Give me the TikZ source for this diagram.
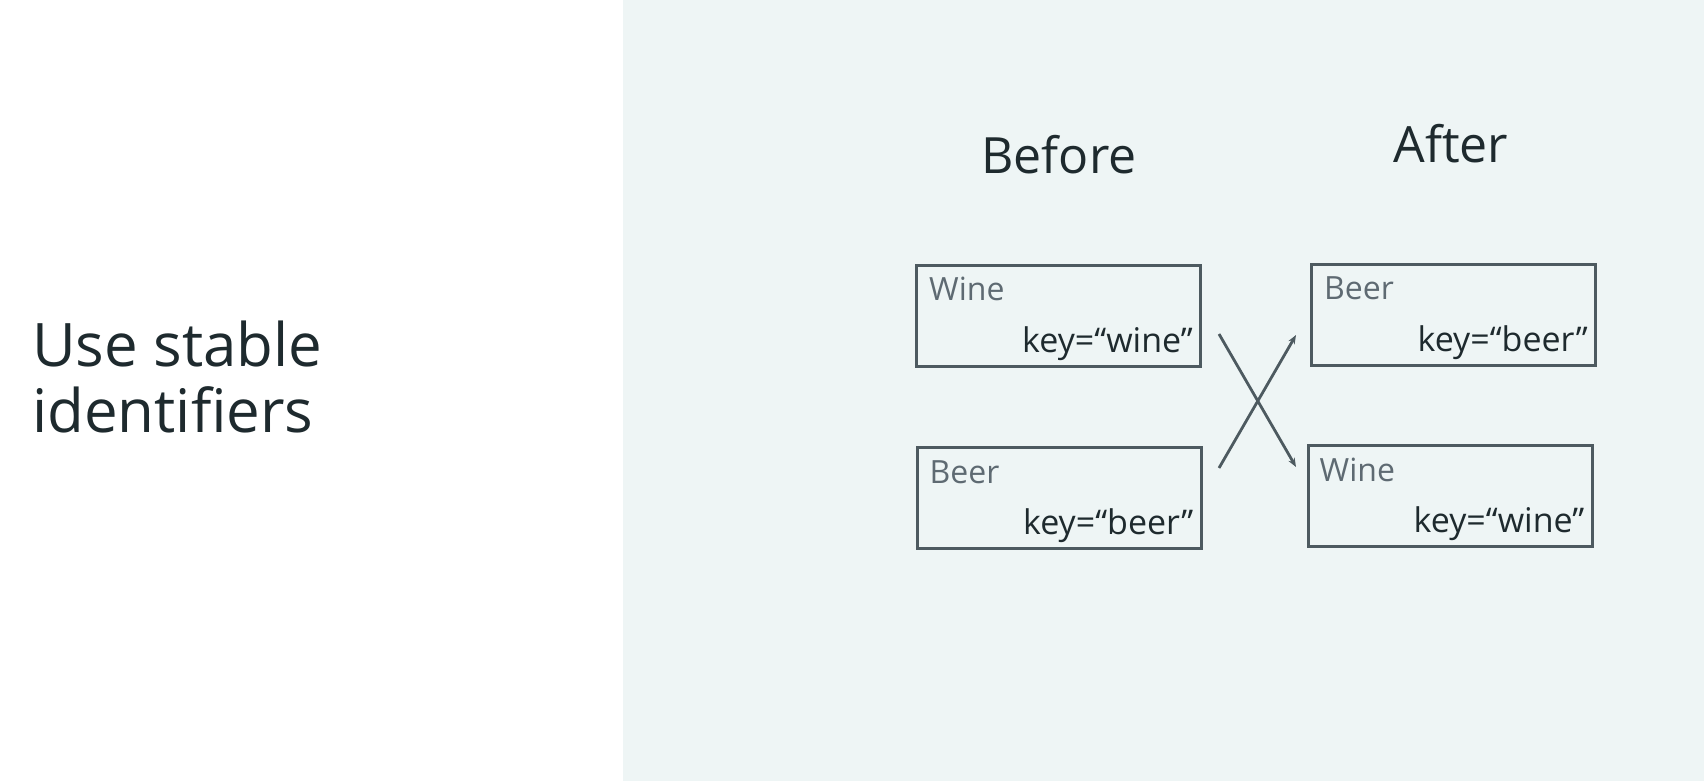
\documentclass[tikz,border=0pt]{standalone}
\usepackage{fontspec}
\setmainfont{Open Sans}
\usetikzlibrary{arrows.meta}
\definecolor{panel}{HTML}{EEF5F5}
\definecolor{ink}{HTML}{1E2A2E}
\definecolor{boxline}{HTML}{4D5A60}
\definecolor{lbl}{HTML}{5E6A72}
\tikzset{
  box/.style={draw=boxline, line width=3pt, minimum width=284pt, minimum height=101pt, inner sep=0pt},
  lab/.style={text=lbl, font=\fontsize{32}{34}\selectfont, inner sep=0pt},
  keytxt/.style={text=ink, font=\fontsize{34}{36}\selectfont, inner sep=0pt},
  head/.style={text=ink, font=\fontsize{50}{54}\selectfont, inner sep=0pt},
  arr/.style={draw=boxline, line width=2.8pt, -{Stealth[length=9pt,width=7pt]}}
}
\begin{document}
\begin{tikzpicture}[x=1pt,y=-1pt]
\useasboundingbox (0,0) rectangle (1704,781);
\fill[white] (0,0) rectangle (623,781);
\fill[panel] (623,0) rectangle (1704,781);
% title
\node[text=ink, font=\fontsize{60}{66}\selectfont, inner sep=0pt, anchor=base west] (t1) at (32,366) {Use stable};
\node[text=ink, font=\fontsize{60}{66}\selectfont, inner sep=0pt, anchor=base west] (t2) at (32,432) {identifiers};
% headings
\node[head, anchor=base] (before) at (1059,173) {Before};
\node[head, anchor=base] (after) at (1451,162) {After};
% boxes
\node[box] (tl) at (1058.5,315.5) {};
\node[box] (bl) at (1059,498) {};
\node[box] (tr) at (1453.5,314.5) {};
\node[box] (br) at (1450,496) {};
% labels
\node[lab, anchor=base west] (tlA) at ([xshift=14pt,yshift=-37pt]tl.north west) {Wine};
\node[keytxt, anchor=base east] (tlB) at ([xshift=-9pt,yshift=15pt]tl.south east) {key=“wine”};
\node[lab, anchor=base west] (blA) at ([xshift=14pt,yshift=-37pt]bl.north west) {Beer};
\node[keytxt, anchor=base east] (blB) at ([xshift=-9pt,yshift=16pt]bl.south east) {key=“beer”};
\node[lab, anchor=base west] (trA) at ([xshift=14pt,yshift=-37pt]tr.north west) {Beer};
\node[keytxt, anchor=base east] (trB) at ([xshift=-9pt,yshift=15pt]tr.south east) {key=“beer”};
\node[lab, anchor=base west] (brA) at ([xshift=13pt,yshift=-37pt]br.north west) {Wine};
\node[keytxt, anchor=base east] (brB) at ([xshift=-9pt,yshift=16pt]br.south east) {key=“wine”};
% arrows
\coordinate (w1) at (1219,334);
\coordinate (w2) at (1296,467);
\coordinate (b1) at (1219,468);
\coordinate (b2) at (1296,335);
\draw[arr] (w1) -- (w2);
\draw[arr] (b1) -- (b2);
\end{tikzpicture}
\end{document}
